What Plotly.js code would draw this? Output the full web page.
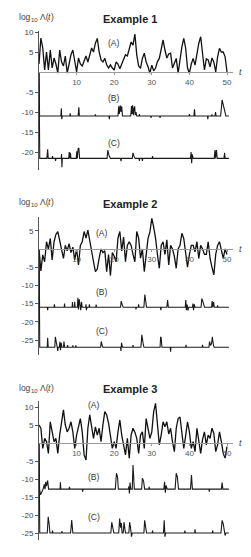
<!DOCTYPE html>
<html><head><meta charset="utf-8">
<script src="https://cdn.plot.ly/plotly-3.0.1.min.js"></script>
<style>html,body{margin:0;padding:0;background:#fff;} #chart{width:251px;height:557px;}</style>
</head><body><div id="chart"></div>
<script>
// sampling interval of the (A) curves
const dtA = 0.5;
const A1 = [2,8.5,6,0.5,5,0.5,5.5,1,3.5,2,
 -0.3,5.5,2.5,1.5,4,-0.3,2,4.3,5.5,3,
 0,3.5,2,1.5,3,4,2.5,4,6,5,
 7.2,8.4,5,3,2.5,3.4,1.8,1,1.8,1,
 0.5,2.5,2,0.8,2,3.5,4.3,4,6,7.5,
 6.7,9.5,4.3,1.5,0.9,3.4,4.7,2.5,1.3,-0.3,
 1.7,0.3,1,2.6,3.4,5.9,8,5.5,3.5,4.5,
 4.7,1,2.5,3.4,-0.3,3.4,6.3,8.4,6,1,
 -0.3,2,3.4,1.7,5,7.2,8.8,5,0.5,3.3,
 3,1.3,3.5,2.5,0,3.8,5.9,5,5,3.8,
 0];
const A2 = [0,-6,-1.6,-3.5,2,0,2.9,-3,2,4,
 4.8,2.5,0.5,-2.6,1,-0.5,1.5,-1,0.5,-3,
 0,-4.4,1,2,4.8,3,5.2,2,0,-3.5,
 -6.2,-5.5,-2.5,0,-1,-0.5,-6.2,-1.5,-7.3,-1,
 -2,-3.5,3,4.8,-0.5,3.3,-3.5,1,2,1,
 -1.5,-3.5,4.8,3,-2.5,0,-6.2,-1.5,2.9,4.7,
 8.4,6,2.9,-1.5,-5.3,1,2,-1.5,2.5,-4.4,
 1,0,-2,-5.3,0,1,4.3,2.9,-0.8,-5,
 -1.5,1,1,-0.8,2,-2.6,1,0,-1.5,-1.5,
 2,-2.6,-5,-7.1,-1.5,1,2,-0.5,-2.6,0,
 -1.5];
const A3 = [5,4.1,-1.5,1.3,0.4,-2.9,5.9,3.1,0.4,1.3,
 -2.9,2.2,5.9,9.2,5,3.1,4.1,5.9,3.1,-1.5,
 2.2,5,6.8,3.1,-3.3,-4.7,4.1,7.8,5,1.3,
 4.5,2.2,4.1,0.4,5,8.7,7.8,5.5,2,-1.5,
 0.4,-1.5,3.1,6.4,2.2,-1,-3.3,1.3,-4.2,2.2,
 4.1,3,1.3,-2.9,2.2,3.1,-1.5,6.8,4.1,1.3,
 3.1,8.7,11,5.9,-0.5,2.2,5.9,4.5,5.9,2.5,
 4.1,0.4,-2.4,4.1,6.8,7.2,3.1,-1.5,2,5.9,
 3.1,-1.5,0.4,-2.4,4.1,0.4,-2.9,1,3.1,-0.5,
 2.2,1.3,4.1,2.7,-2.4,-0.5,3.1,0.4,-2.9,-4.2,
 -1];

// (B) and (C) curves as [t, log10 Lambda] points
const B1 = [[0,0],[0.15,-11],[5.8,-11],[5.95,-9.1],[6.05,-11.8],[6.2,-11],
 [8.2,-11],[8.3,-10.3],[8.4,-11],[10.4,-11],[10.6,-8.8],[10.75,-11],
 [14.9,-11],[15,-10.6],[15.1,-11],[18.6,-11],[18.7,-11.8],[18.8,-11],
 [21.0,-11],[21.2,-8.6],[21.35,-10.5],[21.6,-8.3],[21.8,-10],[22.0,-8.6],[22.2,-11],
 [24.4,-11],[24.6,-8.5],[24.75,-10.5],[24.9,-8.3],[25.1,-10.8],[25.3,-9],[25.45,-8.6],[25.6,-10.8],[25.8,-10],[26.0,-11],
 [26.6,-11],[26.7,-10.5],[26.8,-11],[29.7,-11],[29.8,-11.5],[29.9,-11],
 [32.1,-11],[32.2,-11.5],[32.3,-11],[39.9,-11],[40,-10.5],[40.1,-11],
 [41.2,-11],[41.35,-9.3],[41.5,-11],[44.8,-11],[44.9,-11.8],[45,-11],
 [45.9,-11],[46,-10.6],[46.1,-11],[46.8,-11],[46.95,-10],[47.1,-11],
 [48.3,-11],[48.7,-7],[48.9,-7.8],[49.3,-9.5],[49.7,-11],[50.5,-11]];
const C1 = [[0,0],[0.2,-21.6],[2.1,-21.6],[2.3,-19.3],[2.45,-21.6],
 [3.5,-21.6],[3.6,-21],[3.7,-21.6],[4.3,-21.6],[4.4,-22.2],[4.5,-21.6],
 [5.9,-21.6],[6.0,-20.5],[6.1,-23.8],[6.2,-21.6],
 [7.9,-21.6],[8.05,-20],[8.2,-21.6],[8.35,-20.2],[8.5,-21.6],
 [9.9,-21.6],[10.05,-19.8],[10.2,-21.6],[10.4,-19.2],[10.6,-19],[10.8,-21.6],
 [18.1,-21.6],[18.3,-19.5],[18.6,-20.8],[19.0,-21.6],
 [21.7,-21.6],[21.8,-22.3],[21.9,-21.6],
 [24.8,-21.6],[25.0,-20.2],[25.3,-21.2],[25.6,-21.6],
 [26.6,-21.6],[26.7,-22.2],[26.8,-21.6],[27.4,-21.6],[27.5,-22.2],[27.6,-21.6],
 [30.1,-21.6],[30.2,-21],[30.3,-21.6],
 [40.3,-21.6],[40.45,-20],[40.6,-22.8],[40.75,-20.6],[41.0,-21.6],
 [46.6,-21.6],[46.8,-19.5],[46.95,-21.6],[47.2,-19.5],[47.4,-21.6],
 [49.2,-21.6],[49.35,-20.2],[49.5,-21.6],[50.5,-21.6]];
const B2 = [[0,0],[0.15,-16],[2.2,-16],[2.3,-16.8],[2.4,-16],
 [4.0,-16],[4.1,-15.2],[4.2,-16],[6.7,-16],[6.8,-15],[6.9,-16],
 [8.8,-16],[8.9,-14.6],[9.0,-16],[9.4,-16],[9.5,-14.5],[9.6,-16],
 [10.2,-16],[10.35,-13.4],[10.5,-16.6],[10.7,-13.8],[10.9,-15],[11.1,-16.8],[11.3,-14.5],[11.5,-16],
 [12.4,-16],[12.5,-15.2],[12.6,-16.8],[12.8,-16],[13.3,-16],[13.4,-15.2],[13.5,-16],
 [15.1,-16],[15.2,-15.3],[15.3,-16],
 [21.7,-16],[21.85,-14.3],[22.1,-15.2],[22.4,-16],
 [25.7,-16],[25.8,-16.6],[25.9,-16],[26.4,-16],[26.5,-15.2],[26.6,-16],
 [27.9,-16],[28.15,-12.5],[28.4,-15.5],[28.6,-16],
 [32.3,-16],[32.4,-16.8],[32.5,-16],[34.0,-16],[34.2,-14.0],[34.4,-16],
 [38.9,-16],[39.05,-14.0],[39.2,-16.8],[39.4,-15.3],[39.6,-16.9],[39.8,-16],
 [40.8,-16],[40.95,-15],[41.1,-16.8],[41.3,-15.2],[41.5,-16],
 [43.1,-16],[43.3,-13.6],[43.7,-14.8],[44.0,-16],
 [45.9,-16],[46.05,-14.3],[46.2,-16],[46.45,-14.6],[46.6,-16],
 [47.4,-16],[47.5,-15.5],[47.6,-16],[50.5,-16]];
const C2 = [[0,0],[0.2,-27],[2.2,-27],[2.3,-24.4],[2.45,-27],
 [4.2,-27],[4.35,-24.1],[4.6,-25.5],[4.8,-27],[5.0,-28],[5.1,-27],
 [5.4,-27],[5.55,-25.5],[5.7,-27.8],[5.9,-25.8],[6.1,-27],[6.5,-27],[6.65,-25.4],[6.8,-27],
 [7.5,-27],[7.6,-26.4],[7.7,-27],[8.9,-27],[9.0,-26.5],[9.1,-27],
 [9.7,-27],[9.8,-26.5],[9.9,-27],
 [16.4,-27],[16.55,-25.4],[16.8,-26.5],[17.0,-27],
 [21.7,-27],[21.8,-28],[21.95,-25.8],[22.2,-27],
 [24.9,-27],[25.0,-26.4],[25.1,-27],
 [27.1,-27],[27.35,-23.6],[27.7,-26],[27.9,-27],
 [32.2,-27],[32.35,-24.1],[32.5,-24.5],[32.7,-27],
 [34.9,-27],[35.0,-28.2],[35.1,-27],
 [39.0,-27],[39.1,-26.3],[39.2,-27],[43.4,-27],[43.5,-26.3],[43.6,-27],
 [45.2,-27],[45.35,-25.4],[45.6,-26.5],[45.9,-26],[46.1,-24.1],[46.4,-26.5],[46.6,-27],[50.5,-27]];
const B3 = [[0,0],[0.15,-12.8],[0.4,-14.4],[0.8,-13.5],[1.1,-12.8],[1.4,-11.5],[1.6,-12.8],[1.8,-10.8],[2.0,-12],[2.3,-10.4],[2.55,-12.8],
 [5.6,-12.8],[5.7,-10.9],[5.8,-12.8],[8.0,-12.8],[8.1,-12.2],[8.2,-12.8],
 [11.5,-12.8],[11.6,-13.5],[11.7,-12.8],
 [20.3,-12.8],[20.6,-8.4],[20.9,-9.5],[21.1,-12.8],
 [23.8,-12.8],[23.9,-12],[24.05,-14],[24.2,-11],[24.4,-12.8],
 [24.8,-12.8],[25.0,-6.1],[25.2,-11],[25.35,-12.8],
 [27.3,-12.8],[27.5,-9.8],[27.8,-10.5],[28.1,-12.8],
 [29.2,-12.8],[29.3,-12.2],[29.4,-12.8],
 [33.2,-12.8],[33.4,-10.8],[33.6,-13.8],[33.8,-11.8],[34.1,-12.8],
 [36.2,-12.8],[36.5,-8.4],[36.8,-9.5],[37.1,-12.8],
 [40.3,-12.8],[40.55,-8.9],[40.8,-12.8],
 [45.2,-12.8],[45.3,-13.5],[45.4,-12.8],
 [48.5,-12.8],[48.7,-11],[48.9,-12.8],[50.5,-12.8]];
const C3 = [[0,0],[0.2,-25],[2.2,-25],[2.45,-20.5],[2.7,-22.5],[2.9,-25],
 [3.5,-25],[3.6,-24.3],[3.7,-25],[6.0,-25],[6.1,-24.5],[6.2,-25],
 [8.4,-25],[8.7,-21.4],[9.0,-25],
 [19.1,-25],[19.35,-22],[19.6,-24],[19.9,-25],
 [21.2,-25],[21.45,-21],[21.7,-23.5],[21.9,-22.2],[22.1,-25],
 [22.4,-25],[22.6,-22],[22.8,-24],[23.0,-25],
 [23.9,-25],[24.1,-22],[24.35,-23.5],[24.6,-26],[24.8,-25],
 [27.9,-25],[28.1,-21.5],[28.4,-23],[28.6,-25],
 [30.1,-25],[30.2,-24.3],[30.3,-25],
 [33.1,-25],[33.3,-21.5],[33.5,-26],[33.7,-25],
 [38.7,-25],[38.8,-24.3],[38.9,-25],[41.4,-25],[41.5,-24],[41.6,-25],
 [46.1,-25],[46.2,-24.3],[46.3,-25],
 [48.4,-25],[48.7,-21.5],[49.0,-22.5],[49.3,-25],[49.5,-25.7],[49.7,-25],[50.5,-25]];

const titles = ['Example 1','Example 2','Example 3'];
const seriesLabels = ['(A)','(B)','(C)'];
const xTicks = [10,20,30,40,50];
const yTicks1 = [10,5,-5,-10,-15,-20];
const yTicks2 = [5,-5,-10,-15,-20,-25];
const yTicks3 = [10,5,-5,-10,-15,-20,-25];

// ---- layout geometry (pixels) ----
const W = 251, H = 557;
const X0 = 39, PPX = 3.76, XMAX = 51.6;
const FAM = 'Liberation Sans, Arial, sans-serif';
const panels = [
  {A:A1, B:B1, C:C1, yt:yTicks1, zero:72,  top:31,  bot:170, ppu:4.0,
   lab:[[114,43],[114,98],[114,143]], titleY:19, ylabY:17},
  {A:A2, B:B2, C:C2, yt:yTicks2, zero:249, top:217, bot:355, ppu:3.64,
   lab:[[102,233],[102,292],[102,331]], titleY:204, ylabY:202},
  {A:A3, B:B3, C:C3, yt:yTicks3, zero:443, top:401, bot:540, ppu:3.6,
   lab:[[94,405],[94,477],[94,517]], titleY:389, ylabY:388}
];

const px2x = p => p / W;
const px2y = p => 1 - p / H;
const lineA = {color:'#111', width:1.3};
const lineBC = {color:'#1a1a1a', width:1.1};
const traces = [];
const layout = {
  width: W, height: H, margin:{l:0,r:0,t:0,b:0},
  paper_bgcolor:'#fff', plot_bgcolor:'rgba(0,0,0,0)',
  showlegend:false, font:{family:FAM, size:8, color:'#333'},
  annotations: []
};
const ann = (text, x, y, font, xanchor) => layout.annotations.push({
  text, x: px2x(x), y: px2y(y), xref:'paper', yref:'paper', showarrow:false,
  xanchor: xanchor || 'center', yanchor:'middle', borderpad:0,
  font: Object.assign({family:FAM, size:8.5, color:'#333'}, font || {})
});
// text width measurement for composing the y label
const ctx = document.createElement('canvas').getContext('2d');
const tw = (s, size, style) => { ctx.font = (style || '') + ' ' + size + 'px "Liberation Sans", Arial, sans-serif'; return ctx.measureText(s).width; };

panels.forEach((p, i) => {
  const n = i === 0 ? '' : String(i + 1);
  const xa = 'x' + n, ya = 'y' + n;
  const tA = p.A.map((_, k) => k * dtA);
  traces.push({x:tA, y:p.A, xaxis:xa, yaxis:ya, type:'scatter', mode:'lines', line:lineA, hoverinfo:'skip'});
  [p.B, p.C].forEach(s => traces.push({
    x:s.map(d => d[0]), y:s.map(d => d[1]), xaxis:xa, yaxis:ya,
    type:'scatter', mode:'lines', line:lineBC, hoverinfo:'skip'}));

  const yr = [(p.zero - p.bot) / p.ppu, (p.zero - p.top) / p.ppu];
  layout['xaxis' + n] = {
    domain:[px2x(X0), px2x(X0 + XMAX * PPX)], range:[0, XMAX],
    anchor:'free', position: px2y(p.zero),
    showline:true, linecolor:'#9a9a9a', linewidth:1,
    ticks:'outside', ticklen:2, tickcolor:'#9a9a9a',
    tickvals:xTicks, ticktext:xTicks.map(String),
    tickfont:{size:8, color:'#555'}, showgrid:false, zeroline:false, fixedrange:true
  };
  layout['yaxis' + n] = {
    domain:[px2y(p.bot), px2y(p.top)], range:yr, anchor:xa,
    showline:true, linecolor:'#555', linewidth:1,
    ticks:'outside', ticklen:3, tickcolor:'#555',
    tickvals:p.yt, ticktext:p.yt.map(String),
    tickfont:{size:8, color:'#444'}, showgrid:false, zeroline:false, fixedrange:true
  };
  ann(titles[i], 130, p.titleY, {size:11, color:'#222', weight:'bold'});
  // y label "log10 Λ(t)" composed of pieces
  let x = 18;
  const S = 8.5, s2 = 6;
  ann('log', x, p.ylabY, {size:S, color:'#444'}, 'left'); x += tw('log', S);
  ann('10', x + 0.3, p.ylabY + 2.5, {size:s2, color:'#444'}, 'left'); x += tw('10', s2) + 2.5;
  ann('Λ(', x, p.ylabY, {size:S, color:'#444'}, 'left'); x += tw('Λ(', S);
  ann('t', x, p.ylabY, {size:S, color:'#444', style:'italic'}, 'left'); x += tw('t', S, 'italic') + 0.4;
  ann(')', x, p.ylabY, {size:S, color:'#444'}, 'left');
  seriesLabels.forEach((s, k) => ann(s, p.lab[k][0], p.lab[k][1]));
  ann('t', 240, p.zero, {size:9, color:'#444', style:'italic'});
});

Plotly.newPlot('chart', traces, layout, {staticPlot:true, displayModeBar:false});
</script>
</body></html>
